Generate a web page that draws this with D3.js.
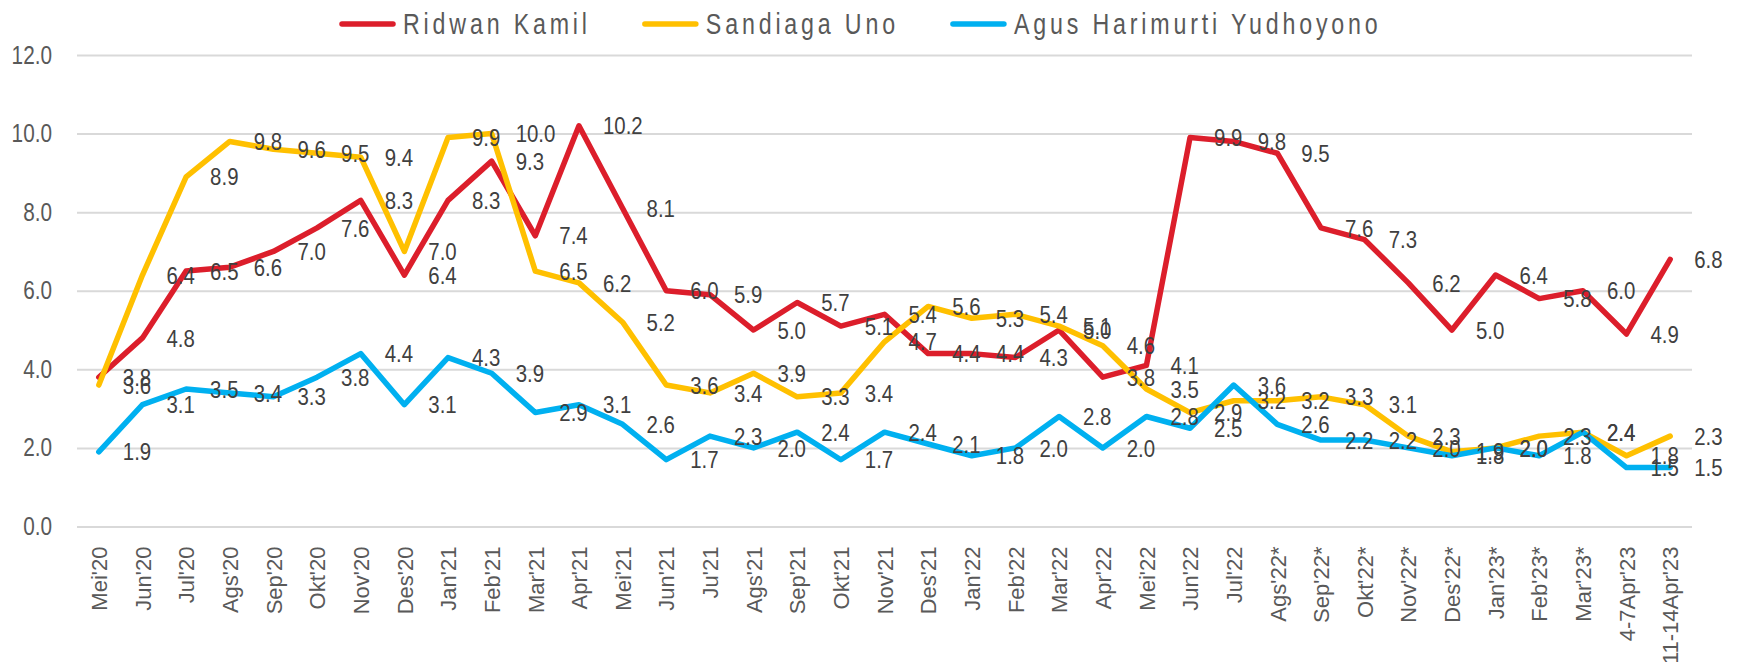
<!DOCTYPE html>
<html>
<head>
<meta charset="utf-8">
<script src="https://cdn.jsdelivr.net/npm/d3@7"></script>
<style>
  body { margin: 0; background: #fff; }
  svg { display: block; }
</style>
</head>
<body>
<div id="chart"></div>
<script>
const categories = ["Mei'20", "Jun'20", "Jul'20", "Ags'20", "Sep'20", "Okt'20", "Nov'20", "Des'20",
    "Jan'21", "Feb'21", "Mar'21", "Apr'21", "Mei'21", "Jun'21", "Ju'21", "Ags'21", "Sep'21", "Okt'21", "Nov'21", "Des'21",
    "Jan'22", "Feb'22", "Mar'22", "Apr'22", "Mei'22", "Jun'22", "Jul'22", "Ags'22*", "Sep'22*", "Okt'22*", "Nov'22*", "Des'22*",
    "Jan'23*", "Feb'23*", "Mar'23*", "4-7Apr'23", "11-14Apr'23"];

const ridwanKamil = [3.8, 4.8, 6.5, 6.6, 7.0, 7.6, 8.3, 6.4,
    8.3, 9.3, 7.4, 10.2, 8.1, 6.0, 5.9, 5.0, 5.7, 5.1, 5.4, 4.4,
    4.4, 4.3, 5.0, 3.8, 4.1, 9.9, 9.8, 9.5, 7.6, 7.3, 6.2, 5.0,
    6.4, 5.8, 6.0, 4.9, 6.8];

const sandiagaUno = [3.6, 6.4, 8.9, 9.8, 9.6, 9.5, 9.4, 7.0,
    9.9, 10.0, 6.5, 6.2, 5.2, 3.6, 3.4, 3.9, 3.3, 3.4, 4.7, 5.6,
    5.3, 5.4, 5.1, 4.6, 3.5, 2.9, 3.2, 3.2, 3.3, 3.1, 2.3, 1.9,
    2.0, 2.3, 2.4, 1.8, 2.3];

const agusYudhoyono = [1.9, 3.1, 3.5, 3.4, 3.3, 3.8, 4.4, 3.1,
    4.3, 3.9, 2.9, 3.1, 2.6, 1.7, 2.3, 2.0, 2.4, 1.7, 2.4, 2.1,
    1.8, 2.0, 2.8, 2.0, 2.8, 2.5, 3.6, 2.6, 2.2, 2.2, 2.0, 1.8,
    2.0, 1.8, 2.4, 1.5, 1.5];

const yTicks = [0, 2, 4, 6, 8, 10, 12];

const series = [
    { name: "Ridwan Kamil", values: ridwanKamil, color: "#DC1E2B" },
    { name: "Sandiaga Uno", values: sandiagaUno, color: "#FFC000" },
    { name: "Agus Harimurti Yudhoyono", values: agusYudhoyono, color: "#00B0F0" }
];

const width = 1741, height = 662;
const margin = { top: 55, right: 49, bottom: 135.5, left: 77 };
const font = "'Liberation Sans', Arial, sans-serif";
// no narrow font installed, so squeeze the glyphs horizontally instead
const squeeze = 0.83;

const svg = d3.select("#chart").append("svg")
    .attr("width", width)
    .attr("height", height)
    .style("font-family", font);

const x = d3.scalePoint()
    .domain(categories)
    .range([margin.left, width - margin.right])
    .padding(0.5);

const y = d3.scaleLinear()
    .domain([0, 12])
    .range([height - margin.bottom, margin.top]);

// gridlines + y labels
const yAxis = svg.append("g")
    .attr("transform", "translate(" + margin.left + ",0)")
    .call(d3.axisLeft(y)
        .tickValues(yTicks)
        .tickFormat(d3.format(".1f"))
        .tickSize(-(width - margin.right - margin.left)));
yAxis.select(".domain").remove();
yAxis.selectAll("line").attr("stroke", "#D9D9D9").attr("stroke-width", 2);
yAxis.selectAll("text")
    .attr("x", 0)
    .attr("transform", "translate(-25,0) scale(" + squeeze + ",1)")
    .attr("text-anchor", "end")
    .attr("fill", "#595959")
    .style("font-family", font)
    .style("font-size", "25px");

// x labels
const xAxis = svg.append("g")
    .attr("transform", "translate(0," + y(0) + ")")
    .call(d3.axisBottom(x).tickSize(0));
xAxis.select(".domain").remove();
xAxis.selectAll("text")
    .attr("transform", "rotate(-90)")
    .attr("text-anchor", "end")
    .attr("x", -20)
    .attr("y", 0)
    .attr("dy", "0.35em")
    .attr("fill", "#595959")
    .style("font-family", font)
    .style("font-size", "22px");

const line = d3.line()
    .x((d, i) => x(categories[i]))
    .y(d => y(d));

svg.selectAll(".series")
    .data(series)
    .enter().append("path")
    .attr("class", "series")
    .attr("d", d => line(d.values))
    .attr("fill", "none")
    .attr("stroke", d => d.color)
    .attr("stroke-width", 5.5)
    .attr("stroke-linejoin", "round")
    .attr("stroke-linecap", "round");

// data labels, to the right of each point
series.forEach(s => {
    svg.append("g").selectAll("text")
        .data(s.values)
        .enter().append("text")
        .attr("transform", (d, i) => "translate(" + (x(categories[i]) + 24) + "," + y(d) + ") scale(0.85,1)")
        .attr("dy", "0.36em")
        .attr("fill", "#404040")
        .style("font-size", "24px")
        .text(d => d.toFixed(1));
});

// legend
const legend = svg.append("g").attr("transform", "translate(0,24)");
let lx = 340;
series.forEach(s => {
    const g = legend.append("g").attr("transform", "translate(" + lx + ",0)");
    g.append("line")
        .attr("x1", 2).attr("x2", 53)
        .attr("stroke", s.color)
        .attr("stroke-width", 5.5)
        .attr("stroke-linecap", "round");
    const t = g.append("text")
        .attr("transform", "translate(63,0) scale(0.8,1)")
        .attr("dy", "0.36em")
        .attr("fill", "#595959")
        .style("font-size", "29px")
        .style("letter-spacing", "4.8px")
        .text(s.name);
    lx += 63 + t.node().getComputedTextLength() * 0.8 + 52;
});
</script>
</body>
</html>
